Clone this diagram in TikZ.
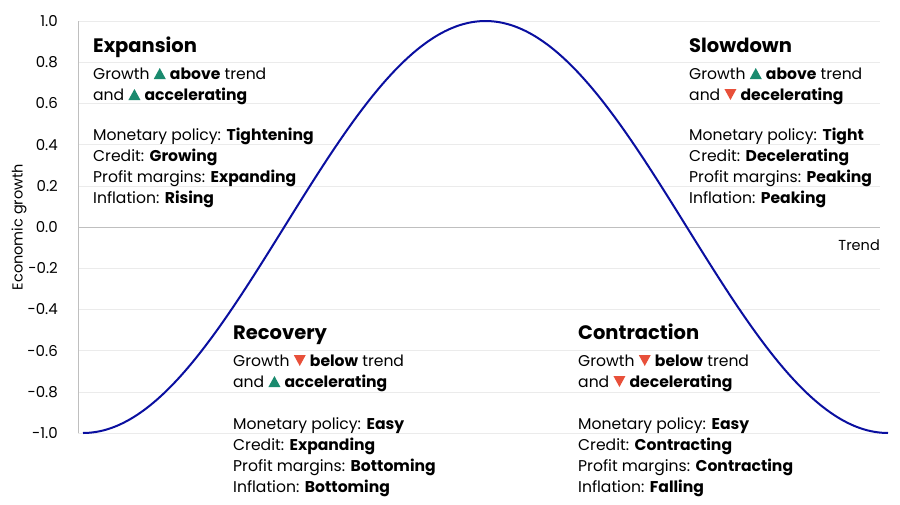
\documentclass[tikz,border=0pt]{standalone}
\usepackage{fontspec}
\setmainfont{Poppins}
\begin{document}
\begin{tikzpicture}[x=1pt,y=-1pt,
  txt/.style={anchor=base west,inner sep=0pt,font=\fontsize{15.6}{17}\selectfont},
  head/.style={anchor=base west,inner sep=0pt,font=\fontsize{19.5}{21}\selectfont\bfseries},
  tick/.style={anchor=east,inner sep=0pt,font=\fontsize{15}{17}\selectfont}]
\definecolor{upc}{HTML}{1A8A6E}\definecolor{dnc}{HTML}{E8503A}\definecolor{curve}{HTML}{0A0FA0}
\newcommand{\upt}{\tikz[baseline=0pt,x=1pt,y=1pt]\fill[upc](0,0)--(12,0)--(6,11)--cycle;}
\newcommand{\dnt}{\tikz[baseline=0pt,x=1pt,y=1pt]\fill[dnc](0,11)--(12,11)--(6,0)--cycle;}
\useasboundingbox (0,0) rectangle (900,504);
\fill[white] (0,0) rectangle (900,504);
\foreach \v [count=\i] in {-1.0,-0.8,-0.6,-0.4,-0.2,0.0,0.2,0.4,0.6,0.8,1.0}{
  \pgfmathsetmacro{\yy}{227-206*\v}
  \draw[black!8] (78,\yy) -- (880,\yy);
  \node[tick] (t\i) at (58,\yy) {\v};
}
\draw[black!25] (78,227) -- (880,227);
\draw[black!25] (78,21) -- (78,433);
\node[rotate=90,font=\fontsize{14.5}{16}\selectfont] (yl) at (19,227) {Economic growth};
\node[anchor=east,inner sep=0pt,font=\fontsize{14.5}{16}\selectfont] (trend) at (880,245) {Trend};
\draw[curve,line width=2pt,domain=83:888,samples=120,smooth] plot (\x,{227+206*cos(0.44720*(\x-83))});
% Expansion
\node[head] (e0) at (93,52) {Expansion};
\node[txt] (e1) at (93,79) {Growth \upt\ \textbf{above} trend};
\node[txt] (e2) at (93,100) {and \upt\ \textbf{accelerating}};
\node[txt] (e3) at (93,140) {Monetary policy: \textbf{Tightening}};
\node[txt] (e4) at (93,161) {Credit: \textbf{Growing}};
\node[txt] (e5) at (93,182) {Profit margins: \textbf{Expanding}};
\node[txt] (e6) at (93,203) {Inflation: \textbf{Rising}};
% Slowdown
\node[head] (s0) at (689,52) {Slowdown};
\node[txt] (s1) at (689,79) {Growth \upt\ \textbf{above} trend};
\node[txt] (s2) at (689,100) {and \dnt\ \textbf{decelerating}};
\node[txt] (s3) at (689,140) {Monetary policy: \textbf{Tight}};
\node[txt] (s4) at (689,161) {Credit: \textbf{Decelerating}};
\node[txt] (s5) at (689,182) {Profit margins: \textbf{Peaking}};
\node[txt] (s6) at (689,203) {Inflation: \textbf{Peaking}};
% Recovery
\node[head] (r0) at (233,339) {Recovery};
\node[txt] (r1) at (233,366) {Growth \dnt\ \textbf{below} trend};
\node[txt] (r2) at (233,387) {and \upt\ \textbf{accelerating}};
\node[txt] (r3) at (233,429) {Monetary policy: \textbf{Easy}};
\node[txt] (r4) at (233,450) {Credit: \textbf{Expanding}};
\node[txt] (r5) at (233,471) {Profit margins: \textbf{Bottoming}};
\node[txt] (r6) at (233,492) {Inflation: \textbf{Bottoming}};
% Contraction
\node[head] (c0) at (578,339) {Contraction};
\node[txt] (c1) at (578,366) {Growth \dnt\ \textbf{below} trend};
\node[txt] (c2) at (578,387) {and \dnt\ \textbf{decelerating}};
\node[txt] (c3) at (578,429) {Monetary policy: \textbf{Easy}};
\node[txt] (c4) at (578,450) {Credit: \textbf{Contracting}};
\node[txt] (c5) at (578,471) {Profit margins: \textbf{Contracting}};
\node[txt] (c6) at (578,492) {Inflation: \textbf{Falling}};
\end{tikzpicture}
\end{document}
